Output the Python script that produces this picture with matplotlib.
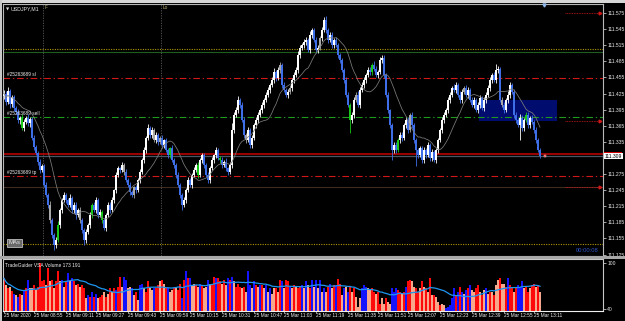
import numpy as np
import pandas as pd
import matplotlib
matplotlib.use("Agg")
import matplotlib.pyplot as plt
from matplotlib.patches import Rectangle
from matplotlib.transforms import blended_transform_factory as blend

# ---------------- data ----------------
symbol = "USDJPY,M1"
base_price = 111.0
first_open_pts = 420
# closes in points (1 pt = 0.001) above 111.000
close_pts = [
    425, 410, 430, 405, 418, 398,
    391, 376, 380, 361, 372,
    380, 370, 378,
    343, 325, 315, 297,
    283, 290, 255, 236,
    218, 189, 162, 143, 152,
    180, 208, 227, 236, 227,
    218, 231, 208, 218, 199, 208, 189,
    171, 152, 167, 180, 199,
    218, 208, 227, 199, 204,
    189, 175, 199, 218, 208,
    227, 245, 273, 286, 283,
    292, 279, 264, 255, 242,
    236, 250, 245, 264,
    279, 301, 320, 342,
    361, 348, 357, 338,
    348, 335, 342, 329, 338,
    320, 310, 323, 301, 292,
    273, 255, 236, 218, 227,
    245, 264, 255, 273, 283,
    292, 273, 301, 310, 292,
    273, 264, 286, 301, 310,
    320, 305, 301, 292, 298,
    286, 279, 292, 357,
    385, 394, 413, 404, 376,
    348, 338, 357, 329, 342,
    366, 376, 385, 394, 404,
    413, 423, 432, 441, 450,
    465, 454, 469, 478, 441,
    432, 423, 428, 435, 450,
    460, 469, 497, 510, 515,
    521, 525, 506, 534, 543,
    525, 506, 510, 528, 543,
    562, 543, 525, 534, 515,
    525, 515, 497, 487, 469,
    450, 423, 404, 376, 385,
    413, 423, 404, 432, 441,
    450, 460, 469, 465, 478,
    471, 460, 465, 487, 491,
    460, 423, 394, 366, 320,
    329, 320, 338, 348, 342,
    366, 376, 357, 385, 366,
    338, 320, 310, 323, 301,
    320, 310, 329, 305, 316,
    301, 320, 338, 357, 376,
    385, 394, 413, 423, 435,
    432, 441, 423, 413, 428,
    435, 423, 432, 413, 404,
    413, 394, 404, 417, 398,
    413, 423, 435, 450, 460,
    450, 469, 471, 413, 404,
    394, 413, 423, 441, 428,
    385, 376, 366, 380, 361,
    376, 385, 366, 380, 372,
    357, 338, 320, 309,
]
upper_wick = [
    6, 4, 8, 3, 5, 4, 3, 6, 4, 7,
    5, 3, 6, 4, 3, 5, 4, 2, 6, 3,
    4, 5, 3, 6, 4, 3, 5, 7, 3, 4,
    5, 3, 4, 6, 3, 5, 4, 3, 5, 4,
    3, 5, 4, 6, 3, 4, 5, 3, 6, 4,
    4, 3, 5, 4, 6, 3, 5, 4, 3, 5,
    4, 6, 3, 5, 4, 3, 5, 4, 6, 3,
    5, 4, 8, 3, 6, 4, 5, 3, 4, 6,
    3, 5, 4, 3, 6, 4, 3, 5, 4, 3,
    5, 4, 6, 3, 4, 5, 3, 6, 4, 5,
    4, 3, 5, 4, 6, 3, 5, 4, 3, 5,
    4, 6, 3, 5, 13, 6, 5, 7, 4, 6,
    5, 4, 6, 3, 5, 4, 6, 5, 4, 5,
    4, 5, 6, 4, 5, 7, 4, 6, 5, 4,
    5, 4, 6, 5, 4, 6, 5, 7, 5, 4,
    6, 5, 4, 7, 5, 4, 6, 5, 4, 6,
    5, 7, 4, 6, 5, 4, 6, 5, 4, 5,
    4, 6, 5, 4, 6, 5, 4, 7, 5, 6,
    5, 4, 6, 5, 4, 7, 5, 4, 6, 5,
    6, 4, 5, 3, 4, 6, 5, 4, 6, 5,
    4, 6, 5, 4, 6, 5, 4, 3, 5, 4,
    5, 4, 6, 3, 5, 4, 3, 5, 4, 6,
    5, 4, 6, 5, 4, 7, 5, 4, 6, 5,
    4, 6, 5, 4, 6, 5, 4, 6, 5, 4,
    5, 4, 6, 5, 4, 6, 11, 5, 4, 6,
    5, 4, 6, 5, 4, 6, 5, 4, 6, 5,
    4, 6, 5, 4, 5, 4, 5, 4, 3,
]
lower_wick = [
    5, 6, 4, 7, 5, 6, 4, 5, 7, 4,
    6, 4, 5, 7, 5, 6, 4, 5, 6, 4,
    5, 4, 6, 5, 7, 9, 5, 4, 6, 5,
    4, 6, 5, 4, 6, 5, 7, 4, 5, 6,
    9, 5, 4, 6, 5, 4, 6, 5, 4, 6,
    5, 6, 4, 5, 4, 6, 5, 4, 6, 5,
    6, 4, 5, 6, 4, 5, 6, 4, 5, 4,
    5, 6, 4, 5, 6, 4, 5, 6, 4, 5,
    6, 4, 5, 6, 4, 5, 6, 4, 5, 10,
    5, 6, 4, 5, 6, 4, 5, 6, 4, 5,
    6, 4, 5, 6, 4, 5, 6, 4, 5, 6,
    4, 5, 6, 4, 5, 6, 4, 5, 6, 4,
    5, 6, 4, 5, 6, 4, 5, 6, 4, 5,
    6, 4, 5, 6, 4, 5, 6, 4, 5, 6,
    4, 5, 6, 4, 5, 6, 4, 5, 6, 4,
    5, 6, 4, 5, 6, 4, 5, 6, 4, 5,
    4, 6, 5, 4, 6, 5, 4, 6, 5, 4,
    6, 5, 4, 24, 5, 6, 4, 5, 6, 4,
    5, 6, 4, 5, 6, 4, 5, 6, 4, 5,
    6, 4, 5, 6, 19, 5, 6, 4, 5, 6,
    4, 5, 6, 4, 5, 6, 30, 5, 4, 6,
    5, 6, 4, 5, 6, 4, 5, 6, 4, 5,
    6, 4, 5, 6, 4, 5, 6, 4, 5, 6,
    4, 5, 6, 4, 5, 6, 4, 5, 6, 4,
    5, 6, 4, 5, 6, 4, 5, 6, 4, 5,
    6, 4, 5, 6, 4, 5, 6, 4, 28, 5,
    6, 4, 5, 6, 4, 5, 6, 4, 4,
]
green_bars = [9, 27, 44, 49, 83, 97, 108, 173, 184, 197, 261]
grey_bars = [23, 38, 60, 65, 75, 78, 121, 138, 143, 158, 176, 203, 230, 249]

volumes = [
    80, 71, 67, 69, 63, 60, 58, 56, 60, 58,
    63, 67, 78, 67, 67, 71, 65, 69, 100, 76,
    78, 71, 93, 76, 78, 67, 76, 89, 76, 78,
    69, 76, 87, 76, 80, 76, 71, 73, 69, 71,
    67, 54, 58, 56, 62, 56, 60, 54, 56, 58,
    62, 56, 60, 67, 62, 67, 65, 69, 82, 69,
    82, 78, 67, 69, 67, 58, 62, 52, 71, 73,
    67, 62, 76, 67, 65, 67, 67, 71, 76, 78,
    73, 67, 67, 62, 65, 67, 67, 65, 73, 54,
    78, 89, 80, 80, 71, 73, 71, 69, 73, 71,
    67, 69, 78, 73, 71, 82, 80, 80, 76, 73,
    78, 71, 80, 78, 82, 76, 69, 73, 69, 67,
    69, 62, 89, 71, 67, 76, 71, 69, 71, 71,
    67, 71, 62, 67, 60, 67, 67, 62, 78, 76,
    67, 78, 76, 69, 67, 71, 69, 67, 69, 71,
    67, 76, 71, 67, 78, 69, 78, 67, 78, 62,
    67, 62, 69, 73, 67, 71, 71, 79, 73, 58,
    67, 69, 62, 69, 62, 67, 56, 43, 54, 67,
    71, 69, 67, 65, 67, 62, 60, 62, 47, 54,
    47, 54, 49, 47, 67, 62, 67, 65, 62, 60,
    62, 69, 76, 78, 76, 69, 67, 62, 67, 76,
    69, 67, 62, 80, 58, 58, 56, 49, 45, 47,
    45, 41, 43, 45, 54, 67, 58, 62, 69, 62,
    60, 65, 67, 71, 65, 62, 67, 71, 62, 58,
    65, 67, 60, 62, 62, 58, 71, 78, 80, 73,
    73, 69, 80, 71, 69, 62, 69, 71, 69, 76,
    67, 69, 62, 67, 71, 73, 69, 71, 62,
]
# VSA classes: r = down/high, b = up/high, p = low volume
volume_class = "".join([
    "rprprbpbrp", "brbpprprrr", "rprprprrpb", "prbpbrprpr", "rpbrbrbprr",
    "prprprbrrp", "bbppbprpbb", "prrppbrrpr", "prbpprprrb", "rbrbpprpbr",
    "ppbprrbrrp", "rpbrbprrrp", "rpbbpbrpbr", "pbpbpprprb", "prrbprprrb",
    "pbprbpbpbp", "bprbprbrrp", "bpbrprpppb", "bbpprrprrp", "prppbbbrrp",
    "rbrrpprrpr", "prprprpprp", "pbbbbbrbrb", "pbrbpprrpr", "pbprprpprp",
    "prbrrprbbb", "prrprrprp",
])

time_labels = ["25 Mar 2020", "25 Mar 08:55", "25 Mar 09:11", "25 Mar 09:27",
               "25 Mar 09:43", "25 Mar 09:59", "25 Mar 10:15", "25 Mar 10:31",
               "25 Mar 10:47", "25 Mar 11:03", "25 Mar 11:19", "25 Mar 11:35",
               "25 Mar 11:51", "25 Mar 12:07", "25 Mar 12:23", "25 Mar 12:39",
               "25 Mar 12:55", "25 Mar 13:11"]
time_label_bar = [0, 15, 31, 46, 62, 78, 93, 109, 125, 140, 156, 172, 187, 202,
                  218, 234, 250, 265]

price_ticks = [111.575, 111.545, 111.515, 111.485, 111.455, 111.425, 111.395,
               111.365, 111.335, 111.305, 111.275, 111.245, 111.215, 111.185,
               111.155, 111.125]
current_price = 111.309
ask_price = 111.313
order_sl = 111.454
order_open = 111.381
order_tp = 111.271
order_label = "#25263689"
yellow_levels = [111.508, 111.145]
green_level = 111.502
brown_level = 111.251
alert_levels = [111.575, 111.374, 111.251]
zone_low, zone_high = 111.374, 111.413
zone_bars = (237.5, 276.5)
separator_bars = [19.5, 78.5]
timer_text = "00:00:08"
vol_title = "TradeGuider VSA Volume 173 191"

# ---------------- figure ----------------
W, H = 625, 321
plt.rcParams["font.family"] = ["Liberation Sans", "DejaVu Sans"]
fig = plt.figure(figsize=(W / 100, H / 100), dpi=100, facecolor="black")


def px_axes(x0, y0, x1, y1):
    return fig.add_axes([x0 / W, 1 - y1 / H, (x1 - x0) / W, (y1 - y0) / H])


# window frame
fig.patches.append(Rectangle((0, 1 - 3 / H), 1, 3 / H, transform=fig.transFigure,
                             facecolor="#d6d6d6", edgecolor="none", zorder=0))
fig.patches.append(Rectangle((0, 0), 2 / W, 1, transform=fig.transFigure,
                             facecolor="#c8c8c8", edgecolor="none", zorder=0))
fig.patches.append(Rectangle((0, 1 - 259 / H), 1, 3 / H, transform=fig.transFigure,
                             facecolor="#a8a8a8", edgecolor="none", zorder=0))

n = min(len(close_pts), len(upper_wick), len(lower_wick))
c = base_price + np.array(close_pts[:n]) / 1000.0
o = np.r_[base_price + first_open_pts / 1000.0, c[:-1]]
hi = np.maximum(o, c) + np.array(upper_wick[:n]) / 1000.0
lo = np.minimum(o, c) - np.array(lower_wick[:n]) / 1000.0
x = np.arange(n)
cols = np.array(["#ffffff" if c[i] >= o[i] else "#3f6fe8" for i in range(n)], dtype=object)
for k in green_bars:
    if k < n:
        cols[k] = "#18c818"
for k in grey_bars:
    if k < n:
        cols[k] = "#a8a8a8"

ax = px_axes(3, 4, 603, 256)
ax.set_facecolor("black")
ax.set_xlim(-0.5, 299.5)
ax.set_ylim(111.1223, 111.5918)

# zone rectangle
ax.add_patch(Rectangle((zone_bars[0], zone_low), zone_bars[1] - zone_bars[0],
                       zone_high - zone_low, facecolor="#000c6e", edgecolor="none", zorder=1))

# levels
for lv in yellow_levels:
    ax.axhline(lv, color="#b09600", lw=0.8, ls=(0, (1, 1.2)), zorder=1)
ax.axhline(green_level, color="#1d5e1d", lw=0.8, zorder=1)
ax.axhline(brown_level, color="#3e2c20", lw=0.8, zorder=1)
for lv, colr in [(order_sl, "#d01818"), (order_open, "#1f9a1f"), (order_tp, "#d01818")]:
    ax.axhline(lv, color=colr, lw=0.8, ls=(0, (6, 2.5, 1.2, 2.5)), zorder=2)
ax.axhline(ask_price, color="#c80000", lw=1.1, zorder=2)
ax.axhline(current_price, color="#4c5763", lw=0.9, zorder=2)
for sx in separator_bars:
    ax.axvline(sx, color="#5a5a5a", lw=0.6, ls=(0, (1.5, 1.5)), zorder=1)
for lv in alert_levels:
    ax.plot([280.5, 297.5], [lv, lv], color="#d01818", lw=0.6, ls=(0, (1, 1)), zorder=2)
    ax.plot([298], [lv], marker=">", ms=2, color="#d01818", zorder=3, clip_on=False)

# candles
ax.vlines(x, lo, hi, colors=list(cols), lw=0.6, zorder=3)
body_h = np.maximum(np.abs(c - o), 0.0007)
ax.bar(x, body_h, bottom=np.minimum(o, c), width=0.85, color=list(cols), linewidth=0, zorder=4)

# moving average
ma = pd.Series(c).rolling(14, min_periods=1).mean()
ax.plot(x, ma, color="#7c7c7c", lw=0.55, zorder=5)

# last price marker
ax.plot([n + 1.5], [current_price], marker="s", ms=1.6, color="#e02020",
        markeredgecolor="#ffffff", markeredgewidth=0.3, zorder=6)

# axes styling
ax.set_xticks([])
ax.yaxis.tick_right()
ax.set_yticks(price_ticks)
ax.set_yticklabels(["" if abs(p - current_price) < 0.01 else f"{p:.3f}" for p in price_ticks])
ax.tick_params(axis="y", colors="#e8e8e8", labelsize=3.6, length=2, width=0.5, pad=1)
for s in ax.spines.values():
    s.set_color("#b8b8b8")
    s.set_linewidth(0.8)

ty = blend(ax.transAxes, ax.transData)
ax.add_patch(Rectangle((1.002, ask_price), 0.03, 0.0035, transform=ty,
                       facecolor="#d00000", edgecolor="none", clip_on=False, zorder=7))
ax.text(1.003, current_price - 0.0005, f"{current_price:.3f}", transform=ty, fontsize=3.6,
        color="black", va="center", ha="left", zorder=8, clip_on=False,
        bbox=dict(boxstyle="square,pad=0.15", facecolor="white", edgecolor="none"))

# texts on the chart
ax.text(0.0045, 0.988, "\u25bc", transform=ax.transAxes, fontsize=3, color="#e0e0e0",
        ha="left", va="top", family="DejaVu Sans")
ax.text(0.012, 0.99, symbol, transform=ax.transAxes, fontsize=3.8, color="#e8e8e8",
        ha="left", va="top")
for lv, txt in [(order_sl, "sl"), (order_open, "sell"), (order_tp, "tp")]:
    ax.text(1.5, lv + 0.0022, f"{order_label} {txt}", fontsize=3.4, color="#f0f0f0",
            ha="left", va="bottom", zorder=6)
ax.text(separator_bars[0] + 1, 111.586, "F", fontsize=3.4, color="#b8b070", ha="left", va="center")
ax.text(separator_bars[1] + 1, 111.586, "Lo", fontsize=3.4, color="#b8b070", ha="left", va="center")
ax.text(2.2, 111.147, "MAs", fontsize=4.3, color="#e6e6e6", ha="left", va="center", zorder=7,
        bbox=dict(boxstyle="square,pad=0.25", facecolor="#6a6a6a", edgecolor="#d8d8d8", linewidth=0.5))
ax.text(0.993, 0.012, timer_text, transform=ax.transAxes, fontsize=4.2, color="#2f55c8",
        ha="right", va="bottom", zorder=7)
ax.plot([270], [111.5905], marker="v", ms=2.2, color="#8fb8e8", clip_on=False, zorder=7)

# ---------------- volume panel ----------------
axv = px_axes(3, 259, 603, 311)
axv.set_facecolor("black")
axv.set_xlim(-0.5, 299.5)
vmin, vmax = 37.4, 105.2
axv.set_ylim(vmin, vmax)
nv = min(len(volumes), len(volume_class), n)
vol = np.array(volumes[:nv], dtype=float)
cmap = {"r": "#ff0a0a", "b": "#1414ff", "p": "#f8a88a"}
vcols = [cmap[ch] for ch in volume_class[:nv]]
axv.bar(np.arange(nv), vol - vmin, bottom=vmin, width=0.95, color=vcols, linewidth=0, zorder=2)
vma = pd.Series(vol).rolling(20, min_periods=1).mean()
axv.plot(np.arange(nv), vma, color="#1e96f0", lw=0.9, zorder=3)
axv.text(0.004, 0.93, vol_title, transform=axv.transAxes, fontsize=3.5, color="#f0f0f0",
         ha="left", va="top", zorder=5)
axv.yaxis.tick_right()
axv.set_yticks([40, 100])
axv.set_yticklabels(["40", "100"])
axv.tick_params(axis="y", colors="#e8e8e8", labelsize=3.6, length=2, width=0.5, pad=1)
axv.set_xticks(time_label_bar)
axv.set_xticklabels([])
axv.tick_params(axis="x", colors="#e0e0e0", length=1.5, width=0.5, direction="out")
for s in axv.spines.values():
    s.set_color("#c8c8c8")
    s.set_linewidth(0.8)
axv.spines["bottom"].set_color("#f0f0f0")
tx = blend(axv.transData, axv.transAxes)
for lab, b in zip(time_labels, time_label_bar):
    axv.text(b, -0.09, lab, transform=tx, fontsize=3.4, color="#f0f0f0",
             ha="left", va="center", clip_on=False)

fig.savefig("out.png", dpi=100, facecolor="black")
